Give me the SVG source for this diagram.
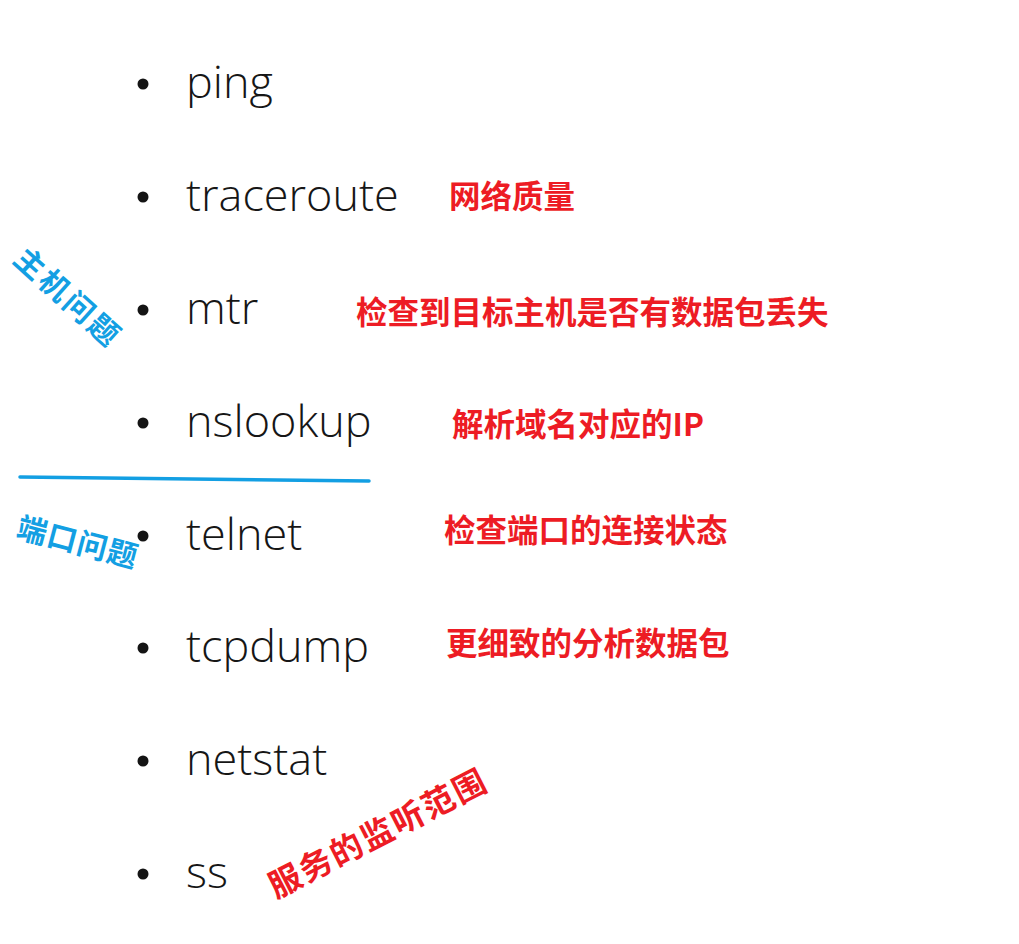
<svg xmlns="http://www.w3.org/2000/svg" width="1019" height="944" viewBox="0 0 1019 944">
<style>
.item{font-family:"Open Sans","Noto Sans",sans-serif;font-size:45px;font-weight:300;fill:#161616}
.dot{fill:#141414}
.red{font-family:"Noto Sans CJK SC","Noto Sans",sans-serif;font-size:31.5px;font-weight:bold;fill:#ed1c24}
.blue{font-family:"Noto Sans CJK SC","Noto Sans",sans-serif;font-size:30px;font-weight:bold;fill:#139fe3}
</style>
<rect width="1019" height="944" fill="#ffffff"/>
<g id="list">
<g id="item-ping"><circle class="dot" cx="143" cy="84" r="5.5"/><text class="item" x="186" y="98">ping</text></g>
<g id="item-traceroute"><circle class="dot" cx="143" cy="197" r="5.5"/><text class="item" x="186" y="211">traceroute</text></g>
<g id="item-mtr"><circle class="dot" cx="143" cy="310" r="5.5"/><text class="item" x="186" y="324">mtr</text></g>
<g id="item-nslookup"><circle class="dot" cx="143" cy="423" r="5.5"/><text class="item" x="186" y="437">nslookup</text></g>
<g id="item-telnet"><circle class="dot" cx="143" cy="536" r="5.5"/><text class="item" x="186" y="550">telnet</text></g>
<g id="item-tcpdump"><circle class="dot" cx="143" cy="648" r="5.5"/><text class="item" x="186" y="662">tcpdump</text></g>
<g id="item-netstat"><circle class="dot" cx="143" cy="761" r="5.5"/><text class="item" x="186" y="775">netstat</text></g>
<g id="item-ss"><circle class="dot" cx="143" cy="874" r="5.5"/><text class="item" x="186" y="888">ss</text></g>
</g>
<g id="notes">
<text id="note-quality" class="red" x="449" y="208">网络质量</text>
<text id="note-mtr" class="red" x="356" y="324">检查到目标主机是否有数据包丢失</text>
<text id="note-dns" class="red" x="452" y="436">解析域名对应的IP</text>
<text id="note-port" class="red" x="444" y="542">检查端口的连接状态</text>
<text id="note-tcpdump" class="red" x="446" y="655">更细致的分析数据包</text>
<text id="note-listen" class="red" x="377.5" y="845" text-anchor="middle" letter-spacing="2" style="font-size:32.5px" transform="rotate(-27.2 377.5 832.3)">服务的监听范围</text>
</g>
<g id="groups">
<text id="host-issues" class="blue" x="68.5" y="308.5" text-anchor="middle" letter-spacing="3" transform="rotate(42 68.5 297)">主机问题</text>
<line id="divider" x1="20" y1="477" x2="369" y2="481" stroke="#139fe3" stroke-width="3.5" stroke-linecap="round"/>
<text id="port-issues" class="blue" x="77.8" y="553" text-anchor="middle" letter-spacing="1" transform="rotate(14.7 77.8 541.7)">端口问题</text>
</g>
</svg>
